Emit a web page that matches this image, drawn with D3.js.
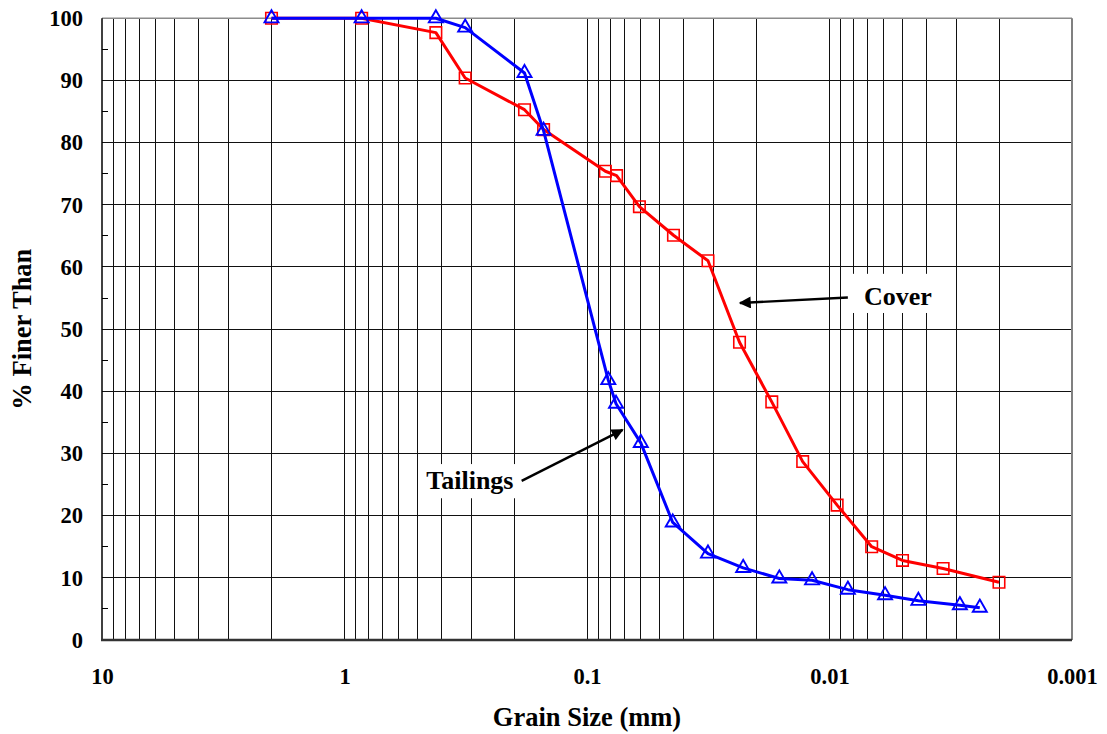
<!DOCTYPE html>
<html>
<head>
<meta charset="utf-8">
<script src="https://cdn.jsdelivr.net/npm/d3@7"></script>
<style>
  html, body { margin: 0; padding: 0; background: #fff; }
  svg { display: block; }
  text { font-family: "Liberation Serif", "Times New Roman", serif; font-weight: bold; fill: #000; }
</style>
</head>
<body>
<svg id="chart" width="1107" height="734"></svg>
<script>
// Grain size distribution: particle diameter (mm) vs. percent finer
const coverSize    = [2.0, 0.85, 0.42, 0.318, 0.181, 0.151, 0.084, 0.0755, 0.0608, 0.044, 0.0317, 0.0235, 0.0173, 0.0129, 0.0093, 0.0067, 0.0050, 0.0034, 0.0020];
const coverFiner   = [100, 100, 97.7, 90.4, 85.3, 82.1, 75.4, 74.7, 69.7, 65.1, 61.0, 47.9, 38.3, 28.7, 21.7, 15.0, 12.8, 11.5, 9.3];
const tailSize     = [2.0, 0.85, 0.42, 0.318, 0.181, 0.151, 0.0817, 0.0759, 0.060, 0.0443, 0.0317, 0.0227, 0.0161, 0.0118, 0.0084, 0.0059, 0.0043, 0.0029, 0.0024];
const tailFiner    = [100, 100, 100, 98.5, 91.2, 81.9, 41.8, 38.0, 31.7, 18.9, 13.9, 11.6, 9.9, 9.6, 8.1, 7.2, 6.3, 5.6, 5.2];
const xTickValues  = [10, 1, 0.1, 0.01, 0.001];
const xTickLabels  = ["10", "1", "0.1", "0.01", "0.001"];
const yTickValues  = [0, 10, 20, 30, 40, 50, 60, 70, 80, 90, 100];
const xTitle = "Grain Size (mm)";
const yTitle = "% Finer Than";

const svg = d3.select("#chart");
const x = d3.scaleLog().domain([10, 0.001]).range([102, 1072]);
const y = d3.scaleLinear().domain([0, 100]).range([640, 18.3]);

// vertical log grid: 1..9 within each decade
const vGrid = [];
for (const base of [1, 0.1, 0.01, 0.001]) {
  for (let m = 1; m <= 9; m++) {
    const v = +(m * base).toPrecision(6);
    if (v < 10 && v > 0.001) vGrid.push(v);
  }
}
const grid = svg.append("g").attr("stroke", "#111").attr("stroke-width", 1)
  .attr("shape-rendering", "crispEdges");
grid.selectAll("line.v").data(vGrid).join("line").attr("class", "v")
  .attr("x1", d => x(d)).attr("x2", d => x(d))
  .attr("y1", y(100)).attr("y2", y(0));
grid.selectAll("line.h").data(yTickValues.filter(d => d > 0 && d < 100)).join("line").attr("class", "h")
  .attr("x1", x(10)).attr("x2", x(0.001))
  .attr("y1", d => y(d)).attr("y2", d => y(d));

// minor y ticks (inside)
svg.append("g").attr("stroke", "#000").attr("stroke-width", 1)
  .attr("shape-rendering", "crispEdges")
  .selectAll("line").data(d3.range(5, 100, 10)).join("line")
  .attr("x1", x(10)).attr("x2", x(10) + 6)
  .attr("y1", d => y(d)).attr("y2", d => y(d));

// frame
svg.append("line").attr("x1", x(10)).attr("x2", x(0.001)).attr("y1", y(100)).attr("y2", y(100))
  .attr("stroke", "#8c8c8c").attr("stroke-width", 1.5);
svg.append("line").attr("x1", x(0.001)).attr("x2", x(0.001)).attr("y1", y(100)).attr("y2", y(0))
  .attr("stroke", "#808080").attr("stroke-width", 2);
svg.append("line").attr("x1", x(10)).attr("x2", x(10)).attr("y1", y(100)).attr("y2", y(0))
  .attr("stroke", "#000").attr("stroke-width", 1.5);
svg.append("line").attr("x1", x(10) - 1).attr("x2", x(0.001)).attr("y1", y(0)).attr("y2", y(0))
  .attr("stroke", "#333").attr("stroke-width", 2.5);

// axes labels
const xAxis = d3.axisBottom(x).tickValues(xTickValues)
  .tickFormat((d, i) => xTickLabels[i]).tickSize(0).tickPadding(28);
const gx = svg.append("g").attr("transform", `translate(0,${y(0)})`).call(xAxis);
gx.select(".domain").remove();
gx.selectAll("text").style("font-size", "22.5px").style("font-family", null);

const yAxis = d3.axisLeft(y).tickValues(yTickValues).tickSize(0).tickPadding(19);
const gy = svg.append("g").attr("transform", `translate(${x(10)},0)`).call(yAxis);
gy.select(".domain").remove();
gy.selectAll("text").style("font-size", "22.5px").style("font-family", null);

// axis titles
svg.append("text").attr("x", (x(10) + x(0.001)) / 2).attr("y", 726)
  .attr("text-anchor", "middle").style("font-size", "26.5px").text(xTitle);
svg.append("text").attr("transform", `translate(31,${(y(0) + y(100)) / 2}) rotate(-90)`)
  .attr("text-anchor", "middle").style("font-size", "26.5px").text(yTitle);

// series
function drawSeries(sizes, finer, color, shape, area, sw) {
  const pts = sizes.map((s, i) => [s, finer[i]]);
  const line = d3.line().x(d => x(d[0])).y(d => y(d[1]));
  svg.append("path").datum(pts).attr("d", line)
    .attr("fill", "none").attr("stroke", color).attr("stroke-width", 3)
    .attr("stroke-linejoin", "round");
  const sym = d3.symbol().type(shape).size(area);
  svg.append("g").selectAll("path").data(pts).join("path")
    .attr("transform", d => `translate(${x(d[0])},${y(d[1])})`)
    .attr("d", sym).attr("fill", "none").attr("stroke", color).attr("stroke-width", sw);
}
drawSeries(coverSize, coverFiner, "#ff0000", d3.symbolSquare, 132, 1.6);
drawSeries(tailSize, tailFiner, "#0000ff", d3.symbolTriangle, 85, 1.9);

// annotations
svg.append("defs").append("marker").attr("id", "arrow")
  .attr("viewBox", "0 0 10 10").attr("refX", 9).attr("refY", 5)
  .attr("markerWidth", 6).attr("markerHeight", 5).attr("orient", "auto")
  .attr("markerUnits", "strokeWidth")
  .append("path").attr("d", "M0,0 L10,5 L0,10 Z").attr("fill", "#000");

function annotate(label, at, box, from, to) {
  svg.append("rect")
    .attr("x", x(box[0])).attr("y", y(box[1]))
    .attr("width", x(box[2]) - x(box[0])).attr("height", y(box[3]) - y(box[1]))
    .attr("fill", "#fff");
  svg.append("text").attr("x", x(at[0])).attr("y", y(at[1])).attr("dy", "0.35em")
    .attr("text-anchor", "middle").style("font-size", "26px").text(label);
  svg.append("line").attr("x1", x(from[0])).attr("y1", y(from[1]))
    .attr("x2", x(to[0])).attr("y2", y(to[1]))
    .attr("stroke", "#000").attr("stroke-width", 2.4).attr("marker-end", "url(#arrow)");
}
annotate("Cover", [0.00522, 55.3], [0.0087, 58.9, 0.0033, 52.6], [0.0084, 55.1], [0.0234, 54.2]);
annotate("Tailings", [0.304, 25.7], [0.49, 28.3, 0.193, 22.8], [0.186, 25.6], [0.0713, 33.8]);
</script>
</body>
</html>
